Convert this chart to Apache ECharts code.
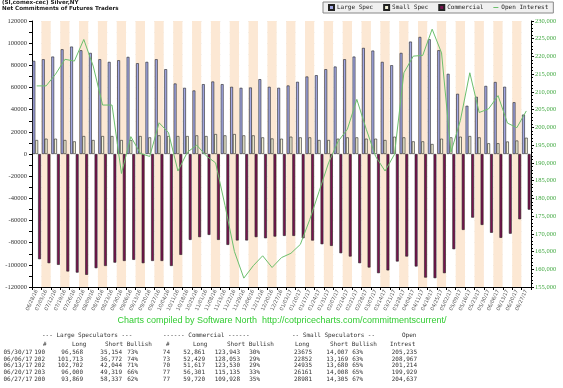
<!DOCTYPE html>
<html><head><meta charset="utf-8">
<script src="https://cdn.jsdelivr.net/npm/echarts@6/dist/echarts.min.js"></script>
<style>html,body{margin:0;padding:0;background:#fff}#c{width:563px;height:388px}</style>
</head><body><div id="c"></div>
<script>
const dates = ['06/28/16','07/05/16','07/12/16','07/19/16','07/26/16','08/02/16','08/09/16','08/16/16','08/23/16','08/30/16',
'09/06/16','09/13/16','09/20/16','09/27/16','10/04/16','10/11/16','10/18/16','10/25/16','11/01/16','11/08/16',
'11/15/16','11/22/16','11/29/16','12/06/16','12/13/16','12/20/16','12/27/16','01/03/17','01/10/17','01/17/17',
'01/24/17','01/31/17','02/07/17','02/14/17','02/21/17','02/28/17','03/07/17','03/14/17','03/21/17','03/28/17',
'04/04/17','04/11/17','04/18/17','04/25/17','05/02/17','05/09/17','05/16/17','05/23/17','05/30/17','06/06/17',
'06/13/17','06/20/17','06/27/17'];
const largeSpec = [84000,85500,87900,94500,96900,93600,91200,85500,83100,84600,
87600,81900,83100,85500,76500,63600,59700,57300,63000,65400,
63000,60600,59700,60000,67500,60600,59700,61800,65100,69900,
71100,76500,78900,85500,87900,95700,93300,83100,80100,91200,
101400,105600,103500,93600,72300,54300,43500,51600,61414,64941,
60658,46681,35532];
const smallSpec = [12600,13800,13800,12600,11400,16200,12600,16200,16200,12600,
12600,16200,15000,16800,16200,16200,16200,16800,16200,18000,
16800,18000,16800,16800,15000,14000,13800,15600,15000,15000,
12600,12600,13800,15000,15000,13800,13800,12600,15600,15000,
11400,11400,9000,13800,15000,15600,16200,15000,9668,9683,
11255,12153,14676];
const commercial = [-94900,-98500,-100000,-106000,-107000,-109000,-103000,-101000,-98000,-96500,
-95500,-98500,-96500,-96500,-101000,-91000,-77500,-75000,-73000,-77500,
-82000,-78000,-78000,-75000,-76000,-74500,-73900,-73900,-76000,-78100,
-81400,-82900,-89500,-92500,-98500,-102400,-107500,-105000,-97000,-92500,
-101500,-111500,-112000,-107500,-85900,-68500,-57400,-64000,-71082,-75624,
-71913,-58834,-50208];
const openInterest = [211700,211700,215000,219200,218700,224800,217300,206300,206300,187000,
197400,192700,191800,201300,198500,187700,193000,195000,192000,190000,
178000,165000,157500,161000,163800,160500,163300,164500,167000,174000,
182000,190000,196000,199500,207900,199500,191800,187700,192400,215400,
220100,220300,227700,221000,193000,202000,215400,204200,205235,208967,
201214,199929,204637];

const tableHeader1 = ['--- Large Speculators ---','------ Commercial ------','-- Small Speculators --','Open'];
const tableRows = [
 ['05/30/17','190','96,568','35,154','73%','74','52,861','123,943','30%','23675','14,007','63%','205,235'],
 ['06/06/17','202','101,713','36,772','74%','73','52,429','128,053','29%','22852','13,169','63%','208,967'],
 ['06/13/17','202','102,702','42,044','71%','70','51,617','123,530','29%','24935','13,680','65%','201,214'],
 ['06/20/17','203','96,000','49,319','66%','77','56,301','115,135','33%','26161','14,008','65%','199,929'],
 ['06/27/17','200','93,869','58,337','62%','77','59,720','109,928','35%','28981','14,305','67%','204,637']
];

const chart = echarts.init(document.getElementById('c'), null, {renderer:'canvas'});
const mono = 'DejaVu Sans Mono, Liberation Mono, monospace';
const tcol = '#333';
const g = [];
g.push({type:'text', left:2, top:0, style:{text:'(SI,comex-cec) Silver,NY', font:'bold 5.6px "DejaVu Sans"', fill:'#222'}});
g.push({type:'text', left:2, top:6, style:{text:'Net Commitments of Futures Traders', font:'bold 5.6px "DejaVu Sans"', fill:'#222'}});
g.push({type:'text', x:282, y:321, style:{text:'Charts compiled by Software North  http://cotpricecharts.com/commitmentscurrent/', font:'9px "Liberation Sans"', fill:'#33cc33', align:'center', verticalAlign:'middle'}});
const hx = [42,163,292,402];
tableHeader1.forEach((t,i)=>g.push({type:'text', x:hx[i], y:335.7, style:{text:t, font:'6px '+mono, fill:tcol, verticalAlign:'middle'}}));
const h2 = [['#',43],['Long',72],['Short Bullish',105],['#',166],['Long',193],['Short Bullish',227],['Long',295],['Short Bullish',330],['Intrest',390]];
h2.forEach(([t,x])=>g.push({type:'text', x:x, y:344, style:{text:t, font:'6px '+mono, fill:tcol, verticalAlign:'middle'}}));
const colRight = [null,45,83,122,138,170,205,240,260,312,348,363,417];
const rowY = [352.3,359,365.7,372.3,379];
tableRows.forEach((r,ri)=>{
  r.forEach((t,ci)=>{
    if(ci===0) g.push({type:'text', x:3.5, y:rowY[ri], style:{text:t, font:'6px '+mono, fill:tcol, verticalAlign:'middle'}});
    else g.push({type:'text', x:colRight[ci], y:rowY[ri], style:{text:t, font:'6px '+mono, fill:tcol, align:'right', verticalAlign:'middle'}});
  });
});

const option = {
  animation:false,
  backgroundColor:'#fff',
  grid:{left:32, right:32, top:21, bottom:101},
  legend:{left:323, top:2, padding:[2,5], itemGap:10, itemWidth:5, itemHeight:5,
    backgroundColor:'#f0f0f0', borderColor:'#888', borderWidth:1,
    textStyle:{fontSize:6, fontFamily:mono, color:'#222', padding:[0,0,0,-2]},
    data:[{name:'Large Spec', icon:'rect'},{name:'Small Spec', icon:'rect'},{name:'Commercial', icon:'rect'},
          {name:'Open Interest', icon:'path://M0,0h0.1v0.1h-0.1zM0,4.2h10v1.6H0zM0,9.9h0.1v0.1h-0.1z'}]},
  xAxis:{type:'category', data:dates, boundaryGap:true,
    axisLine:{onZero:false, lineStyle:{color:'#000', width:1}},
    axisTick:{show:true, interval:0, length:3, lineStyle:{color:'#000'}},
    axisLabel:{interval:0, rotate:65, fontSize:5, color:'#555', margin:3, fontFamily:'DejaVu Sans'},
    splitArea:{show:true, interval:0, areaStyle:{color:['#ffffff','#fce8d4']}},
    splitLine:{show:false}},
  yAxis:[
    {type:'value', min:-120000, max:120000, interval:10000, position:'left',
     axisLine:{show:true, lineStyle:{color:'#000'}},
     axisTick:{show:true, length:3, lineStyle:{color:'#000'}},
     axisLabel:{formatter:v=> (v % 20000 === 0 ? String(v) : ''), fontSize:6.5, fontFamily:'Liberation Serif', color:'#333', margin:5},
     splitLine:{show:true, lineStyle:{color:'#dcdcdc', width:1}}},
    {type:'value', min:155000, max:230000, interval:5000, position:'right',
     axisLine:{show:true, lineStyle:{color:'#000'}},
     axisTick:{show:true, length:3, lineStyle:{color:'#000'}},
     minorTick:{show:true, splitNumber:5, length:2, lineStyle:{color:'#000'}},
     axisLabel:{fontSize:6.5, fontFamily:'Liberation Serif', color:'#44aa44', margin:4},
     splitLine:{show:false}}
  ],
  series:[
    {name:'Large Spec', type:'bar', data:largeSpec, barGap:'0%', barCategoryGap:'10%',
     itemStyle:{color:'#a3a8e4', borderColor:'#222', borderWidth:0.6}},
    {name:'Small Spec', type:'bar', data:smallSpec,
     itemStyle:{color:'#f4f2d8', borderColor:'#222', borderWidth:0.6}},
    {name:'Commercial', type:'bar', data:commercial,
     itemStyle:{color:'#7a1450', borderColor:'#222', borderWidth:0.6}},
    {name:'Open Interest', type:'line', yAxisIndex:1, data:openInterest, symbol:'none',
     lineStyle:{color:'#6cbf6c', width:1}, itemStyle:{color:'#6cbf6c'}, z:5}
  ],
  graphic:g
};
chart.setOption(option);
</script></body></html>
